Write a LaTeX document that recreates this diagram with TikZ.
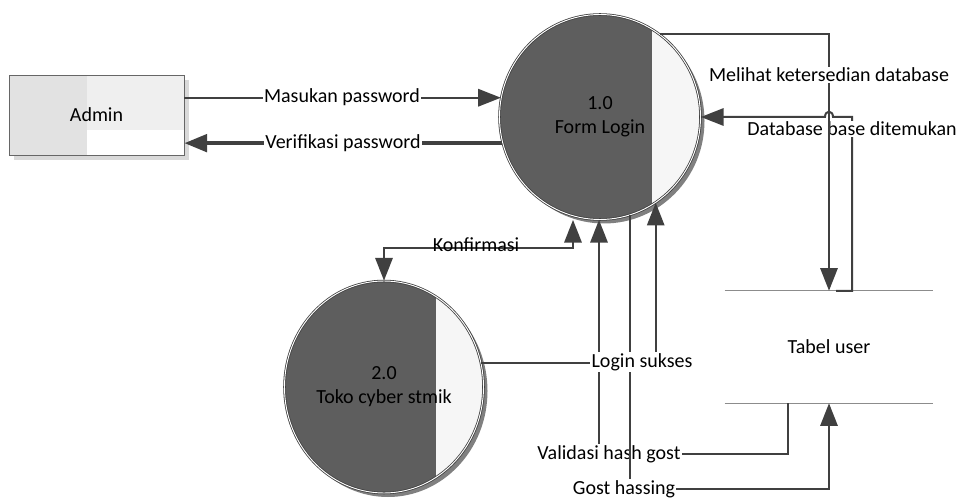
\documentclass[tikz,border=0pt]{standalone}
\usepackage{fontspec}
\setmainfont{Carlito}
\usepackage{tikz}
\usetikzlibrary{positioning,arrows.meta,shapes.geometric,shadows}
\definecolor{flowgray}{HTML}{404040}
\definecolor{procdark}{HTML}{5E5E5E}
\definecolor{proclight}{HTML}{F6F6F6}
\definecolor{storegray}{HTML}{8C8C8C}
\definecolor{admfill}{HTML}{EFEFEF}
\definecolor{admleft}{HTML}{E2E2E2}

\begin{document}
\begin{tikzpicture}[x=0.75pt,y=-0.75pt,font=\fontsize{15}{18}\selectfont,
  >={Triangle[length=17pt,width=13pt]},
  flow/.style={draw=flowgray,line width=1.5pt},
  lbl/.style={fill=white,inner sep=1pt},
  store/.style={draw=storegray,line width=1.1pt},
  ext/.style={rectangle,draw=black!60,line width=0.6pt,fill=admfill,
    minimum width=131.25pt,minimum height=60pt,
    drop shadow={shadow xshift=4pt,shadow yshift=-3.5pt,fill=black!15,opacity=1},
    path picture={
      \fill[admleft] (path picture bounding box.north west) rectangle ([xshift=58.5pt]path picture bounding box.south west);
      \fill[white] ([xshift=58.5pt]path picture bounding box.south west) rectangle ([yshift=18.75pt]path picture bounding box.south east);}},
  proc/.style={ellipse,align=center,fill=proclight,draw=flowgray,line width=0.6pt,
    double=white,double distance=0.7pt,inner sep=0pt,
    drop shadow={shadow xshift=3pt,shadow yshift=-3pt,fill=black!50,opacity=1},
    path picture={\fill[procdark] (path picture bounding box.north west) rectangle ([xshift=39pt]path picture bounding box.south);}}]
\useasboundingbox (0,0) rectangle (960,502);

\node[ext] (adm) at (96.5,115) {Admin};
\node[proc,minimum width=150.75pt,minimum height=153.75pt] (c1) at (600,117) {1.0\\Form Login};
\node[proc,minimum width=149.25pt,minimum height=159pt] (c2) at (384,387) {2.0\\Toko cyber stmik};
\node[minimum width=156pt,minimum height=84pt,inner sep=0pt] (ts) at (829,347) {Tabel user};
\draw[store] (ts.north west) -- (ts.north east) (ts.south west) -- (ts.south east);

\coordinate (kf) at (573,248);
\coordinate (dbs) at (836,291);
\coordinate (dbr) at (852,117);
\coordinate (vhs) at (788,403);
\coordinate (vhc) at (599,454);
\coordinate (ghc) at (829,489);

\draw[flow,->] (adm.east |- c1.169) -- (c1.169);
\node[lbl] (lmp) at (342,97) {Masukan password};
\draw[flow,line width=3pt,->] (c1.195) -- (adm.east |- c1.195);
\node[lbl] (lvp) at (343,143) {Verifikasi password};

\draw[flow,<->] (c2.north) |- (kf) -- (kf |- c1.south);
\node[inner sep=1pt] (lkf) at (476,245) {Konfirmasi};

\draw[flow,->] (dbs) -- (dbs -| dbr) -- (dbr) -- (833,117) .. controls (833,110) and (825,110) .. (825,117) -- (c1.east);
\node[lbl] (ldb) at (852,129) {Database base ditemukan};
\draw[flow,->] (c1.54) -| (ts.north);
\node[lbl] (lmk) at (829,75) {Melihat ketersedian database};

\draw[flow,->] (vhs) |- (vhc) -- (vhc |- c1.south);
\node[lbl] (lvh) at (609,454) {Validasi hash gost};
\draw[flow,->] (c1.-73) |- (ghc) -- (ts.south);
\node[lbl] (lgh) at (624,489) {Gost hassing};
\draw[flow,->] (c2.14) -| (c1.-57);
\node[lbl] (lls) at (642,362) {Login sukses};
\end{tikzpicture}
\end{document}
